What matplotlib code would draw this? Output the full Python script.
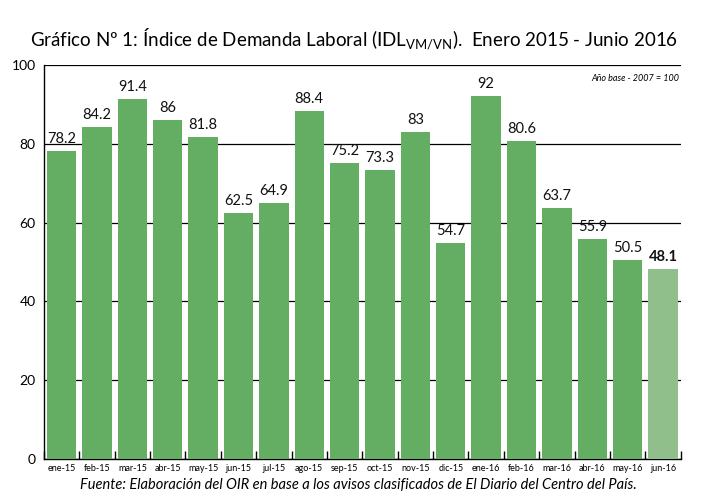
import numpy as np
import matplotlib.pyplot as plt

plt.rcParams['font.family'] = ['Lato', 'DejaVu Sans']
plt.rcParams['mathtext.default'] = 'regular'

months = ['ene-15', 'feb-15', 'mar-15', 'abr-15', 'may-15', 'jun-15', 'jul-15',
          'ago-15', 'sep-15', 'oct-15', 'nov-15', 'dic-15', 'ene-16', 'feb-16',
          'mar-16', 'abr-16', 'may-16', 'jun-16']
idl = [78.2, 84.2, 91.4, 86, 81.8, 62.5, 64.9, 88.4, 75.2, 73.3, 83, 54.7,
       92, 80.6, 63.7, 55.9, 50.5, 48.1]
labels = ['78.2', '84.2', '91.4', '86', '81.8', '62.5', '64.9', '88.4', '75.2',
          '73.3', '83', '54.7', '92', '80.6', '63.7', '55.9', '50.5', '48.1']

fig = plt.figure(figsize=(7.09, 4.96), dpi=100)
ax = fig.add_axes([0.062, 0.075, 0.898, 0.794])

x = np.arange(len(months))
colors = ['#64ae64'] * (len(months) - 1) + ['#90bf8c']
ax.bar(x, idl, width=0.83, color=colors, zorder=3)

for i, (v, lab) in enumerate(zip(idl, labels)):
    ax.text(i, v + 1.3, lab, ha='center', va='bottom', fontsize=10.5,
            fontweight='bold' if i == len(idl) - 1 else 'normal', color='#111111')

ax.set_xlim(-0.5, len(months) - 0.5)
ax.set_ylim(0, 100)
ax.set_yticks([0, 20, 40, 60, 80, 100])
ax.set_yticklabels(['0', '20', '40', '60', '80', '100'], fontsize=10)
ax.yaxis.grid(True, color='black', linewidth=0.9, zorder=0)
ax.tick_params(axis='y', length=0, pad=6)

ax.set_xticks(x)
ax.set_xticklabels(months, fontsize=6.5)
ax.set_xticks(np.arange(len(months) + 1) - 0.5, minor=True)
ax.tick_params(axis='x', which='major', length=0, pad=4)
ax.tick_params(axis='x', which='minor', direction='in', length=6, width=1)

for s in ['top', 'right']:
    ax.spines[s].set_visible(False)
ax.spines['left'].set_linewidth(1)
ax.spines['bottom'].set_linewidth(1)

ax.text(0.998, 0.965, 'Año base - 2007 = 100', transform=ax.transAxes,
        ha='right', va='center', fontsize=6.5, style='italic')

fig.text(0.5, 0.92, 'Gráfico Nº 1: Índice de Demanda Laboral (IDL$_{VM/VN}$).  Enero 2015 - Junio 2016',
         ha='center', va='center', fontsize=13.5)
fig.text(0.505, 0.022, 'Fuente: Elaboración del OIR en base a los avisos clasificados de El Diario del Centro del País.',
         ha='center', va='center', fontsize=10.5, style='italic')

fig.savefig('out.png', dpi=100)
